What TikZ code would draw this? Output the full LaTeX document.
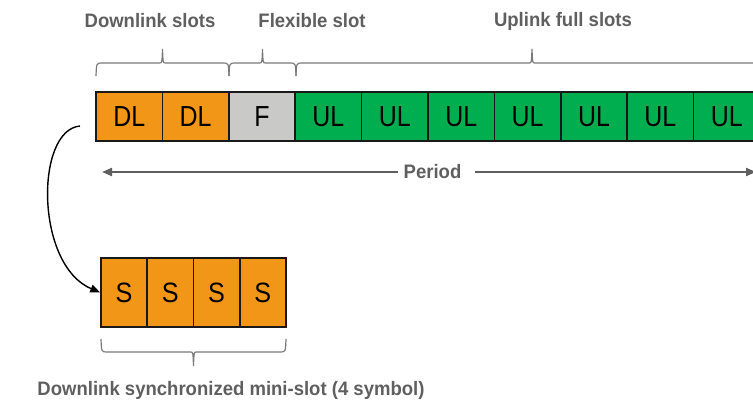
\documentclass[tikz,border=0pt]{standalone}
\usepackage{fontspec}
\setmainfont{Liberation Sans}
\newfontfamily\lblfont[FakeStretch=0.95]{Liberation Sans}
\newfontfamily\boxfont[FakeStretch=0.86]{Liberation Sans}
\newfontfamily\sfont[FakeStretch=0.9]{Liberation Sans}
\usetikzlibrary{arrows.meta,calc}
\definecolor{dlorange}{HTML}{F29618}
\definecolor{ulgreen}{HTML}{00AE4F}
\definecolor{flexgray}{HTML}{C9CAC8}
\definecolor{lblgray}{HTML}{5F5F5F}
\definecolor{bracegray}{HTML}{7A7A7A}
\tikzset{
  slotbox/.style={draw=black!90, line width=1.5pt, minimum width=66.4pt, minimum height=49pt,
    inner sep=0pt, font=\boxfont\fontsize{29}{29}\selectfont, anchor=center},
  dlbox/.style={slotbox, fill=dlorange},
  fbox/.style={slotbox, fill=flexgray},
  ulbox/.style={slotbox, fill=ulgreen},
  symbox/.style={draw=black!90, line width=1.5pt, minimum width=46.25pt, minimum height=69pt,
    inner sep=0pt, fill=dlorange, font=\sfont\fontsize{28}{28}\selectfont},
  lbl/.style={text=lblgray, font=\lblfont\bfseries\fontsize{19.5}{20}\selectfont, inner sep=0pt},
  bracel/.style={draw=bracegray, line width=1.2pt},
  periodarrow/.style={draw=lblgray, line width=2pt, -{Triangle[length=10pt,width=8pt]}},
  linkarrow/.style={draw=black, line width=1.4pt, -{Triangle[length=10pt,width=8pt]}}
}
% horizontal brace: xa, xb, y of ends, y of line, y of tip
\newcommand\slotbrace[5]{%
  \path[bracel] (#1,#3) .. controls (#1+0.5,#4) .. (#1+6,#4) -- ({(#1+#2)/2-3},#4)
    .. controls ({(#1+#2)/2-0.5},#4) .. ({(#1+#2)/2},#5)
    .. controls ({(#1+#2)/2+0.5},#4) .. ({(#1+#2)/2+3},#4) -- (#2-6,#4)
    .. controls (#2-0.5,#4) .. (#2,#3);}
\begin{document}
\begin{tikzpicture}[x=1pt,y=-1pt]
\useasboundingbox (0,0) rectangle (753,407);
\clip (0,0) rectangle (753,407);
% top row
\node[dlbox] (dl1) at (129.2,116.5) {DL};
\node[dlbox] (dl2) at (195.6,116.5) {DL};
\node[fbox]  (f1)  at (262.0,116.5) {F};
\node[ulbox] (ul1) at (328.4,116.5) {UL};
\node[ulbox] (ul2) at (394.8,116.5) {UL};
\node[ulbox] (ul3) at (461.2,116.5) {UL};
\node[ulbox] (ul4) at (527.6,116.5) {UL};
\node[ulbox] (ul5) at (594.0,116.5) {UL};
\node[ulbox] (ul6) at (660.4,116.5) {UL};
\node[ulbox] (ul7) at (726.8,116.5) {UL};
% labels
\node[lbl] (ldl) at (150,21) {Downlink slots};
\node[lbl] (lf)  at (312,21) {Flexible slot};
\node[lbl] (lul) at (563,21) {Uplink full slots};
% braces
\slotbrace{96}{229}{76}{63}{49}
\slotbrace{229}{296}{76}{63}{49}
\slotbrace{296}{768}{76}{63}{49}
% period
\node[lbl] (period) at (432.5,172) {Period};
\coordinate (pl) at (102,172);
\coordinate (pr) at (756,172);
\draw[periodarrow, shorten <=5pt] (period.west) -- (pl);
\draw[periodarrow, shorten <=13pt] (period.east) -- (pr);
% mini slot
\node[symbox] (s1) at (124.1,292.5) {S};
\node[symbox] (s2) at (170.4,292.5) {S};
\node[symbox] (s3) at (216.6,292.5) {S};
\node[symbox] (s4) at (262.9,292.5) {S};
\coordinate (src) at (80,126);
\draw[linkarrow] (src) .. controls (35,130) and (35,265) .. (s1.west);
\slotbrace{101}{286}{339}{352}{366}
\node[lbl] (lmini) at (231,390) {Downlink synchronized mini-slot (4 symbol)};
\end{tikzpicture}
\end{document}
